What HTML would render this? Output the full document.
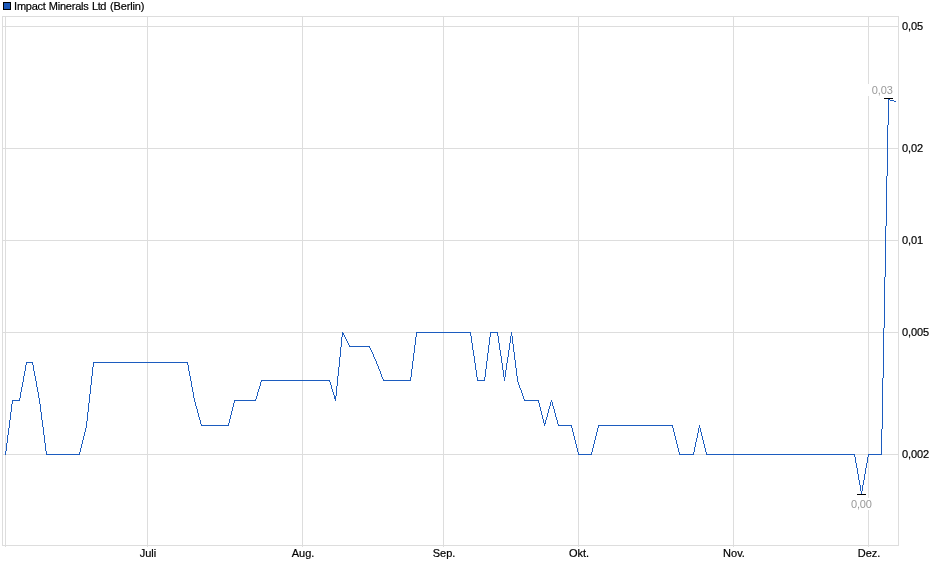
<!DOCTYPE html>
<html><head><meta charset="utf-8"><title>Impact Minerals Ltd (Berlin)</title>
<style>html,body{margin:0;padding:0;background:#fff;}body{width:940px;height:579px;position:relative;overflow:hidden;font-family:"Liberation Sans",Arial,sans-serif;}</style>
</head><body>
<svg width="940" height="579" viewBox="0 0 940 579" style="position:absolute;left:0;top:0">
<g shape-rendering="crispEdges" stroke="#dddddd" stroke-width="1" fill="none">
<rect x="2.5" y="16.5" width="896" height="529"/>
<line x1="5.5" y1="17" x2="5.5" y2="547"/>
<line x1="147.5" y1="17" x2="147.5" y2="547"/>
<line x1="302.5" y1="17" x2="302.5" y2="547"/>
<line x1="443.5" y1="17" x2="443.5" y2="547"/>
<line x1="578.5" y1="17" x2="578.5" y2="547"/>
<line x1="733.5" y1="17" x2="733.5" y2="547"/>
<line x1="868.5" y1="17" x2="868.5" y2="547"/>
<line x1="3" y1="26.5" x2="898" y2="26.5"/>
<line x1="3" y1="148.5" x2="898" y2="148.5"/>
<line x1="3" y1="240.5" x2="898" y2="240.5"/>
<line x1="3" y1="332.5" x2="898" y2="332.5"/>
<line x1="3" y1="454.5" x2="898" y2="454.5"/>
</g>
<rect x="868" y="84" width="27" height="12" fill="#fff"/>
<rect x="850" y="498" width="23" height="12" fill="#fff"/>
<path shape-rendering="crispEdges" fill="#1c5cbf" d="M889 99h1v1h-1zM888 99h1v26h-1zM890 100h4v1h-4zM894 101h2v1h-2zM887 125h1v51h-1zM886 176h1v50h-1zM885 226h1v51h-1zM884 277h1v51h-1zM883 328h1v50h-1zM417 332h53v1h-53zM491 332h6v1h-6zM470 332h1v4h-1zM497 332h1v4h-1zM511 332h1v4h-1zM342 332h1v5h-1zM416 332h1v5h-1zM490 332h1v5h-1zM343 333h1v2h-1zM344 335h1v2h-1zM471 336h1v7h-1zM498 336h1v7h-1zM510 336h1v7h-1zM512 336h1v8h-1zM345 337h1v2h-1zM415 337h1v8h-1zM489 337h1v8h-1zM341 337h1v10h-1zM346 339h1v2h-1zM347 341h1v2h-1zM348 343h1v2h-1zM472 343h1v7h-1zM499 343h1v7h-1zM509 343h1v7h-1zM513 344h1v8h-1zM349 345h1v2h-1zM414 345h1v8h-1zM488 345h1v8h-1zM350 346h19v1h-19zM369 346h1v2h-1zM340 347h1v10h-1zM370 348h1v2h-1zM371 350h1v2h-1zM473 350h1v6h-1zM500 350h1v6h-1zM508 350h1v7h-1zM372 352h1v2h-1zM514 352h1v8h-1zM413 353h1v8h-1zM487 353h1v8h-1zM373 354h1v3h-1zM474 356h1v7h-1zM501 356h1v7h-1zM374 357h1v2h-1zM507 357h1v6h-1zM339 357h1v10h-1zM375 359h1v2h-1zM515 360h1v8h-1zM376 361h1v3h-1zM412 361h1v8h-1zM486 361h1v8h-1zM27 362h5v1h-5zM94 362h93v1h-93zM26 362h1v3h-1zM32 362h1v3h-1zM187 362h1v3h-1zM93 362h1v5h-1zM475 363h1v7h-1zM502 363h1v7h-1zM506 363h1v7h-1zM377 364h1v2h-1zM25 365h1v6h-1zM33 365h1v6h-1zM188 365h1v6h-1zM378 366h1v3h-1zM92 367h1v9h-1zM338 367h1v9h-1zM516 368h1v8h-1zM379 369h1v2h-1zM411 369h1v8h-1zM485 369h1v8h-1zM476 370h1v7h-1zM503 370h1v7h-1zM505 370h1v7h-1zM380 371h1v3h-1zM24 371h1v5h-1zM34 371h1v5h-1zM189 371h1v5h-1zM381 374h1v3h-1zM35 376h1v5h-1zM190 376h1v5h-1zM23 376h1v6h-1zM517 376h1v6h-1zM91 376h1v9h-1zM337 376h1v10h-1zM382 377h1v2h-1zM410 377h1v4h-1zM477 377h1v4h-1zM484 377h1v4h-1zM504 377h1v4h-1zM882 378h1v51h-1zM383 379h1v2h-1zM262 380h67v1h-67zM384 380h26v1h-26zM478 380h6v1h-6zM261 380h1v2h-1zM329 380h1v2h-1zM36 381h1v6h-1zM191 381h1v6h-1zM330 382h1v3h-1zM518 382h1v3h-1zM260 382h1v4h-1zM22 382h1v5h-1zM519 385h1v3h-1zM331 385h1v4h-1zM90 385h1v9h-1zM259 386h1v3h-1zM336 386h1v10h-1zM21 387h1v5h-1zM37 387h1v5h-1zM192 387h1v5h-1zM520 388h1v2h-1zM258 389h1v3h-1zM332 389h1v3h-1zM521 390h1v3h-1zM333 392h1v3h-1zM257 392h1v4h-1zM20 392h1v6h-1zM38 392h1v6h-1zM193 392h1v6h-1zM522 393h1v3h-1zM89 394h1v9h-1zM334 395h1v4h-1zM256 396h1v3h-1zM523 396h1v3h-1zM335 396h1v5h-1zM19 398h1v3h-1zM194 398h1v4h-1zM39 398h1v6h-1zM255 399h1v2h-1zM524 399h1v2h-1zM13 400h6v1h-6zM235 400h20v1h-20zM525 400h13v1h-13zM551 400h1v2h-1zM234 400h1v3h-1zM538 400h1v3h-1zM12 400h1v4h-1zM195 402h1v4h-1zM550 402h1v4h-1zM552 402h1v4h-1zM233 403h1v4h-1zM539 403h1v4h-1zM88 403h1v9h-1zM11 404h1v8h-1zM40 404h1v8h-1zM196 406h1v3h-1zM549 406h1v3h-1zM553 406h1v3h-1zM232 407h1v4h-1zM540 407h1v4h-1zM197 409h1v4h-1zM548 409h1v4h-1zM554 409h1v4h-1zM231 411h1v4h-1zM541 411h1v4h-1zM10 412h1v8h-1zM41 412h1v8h-1zM87 412h1v9h-1zM198 413h1v4h-1zM547 413h1v4h-1zM555 413h1v4h-1zM230 415h1v4h-1zM542 415h1v4h-1zM199 417h1v3h-1zM546 417h1v3h-1zM556 417h1v3h-1zM229 419h1v4h-1zM543 419h1v4h-1zM200 420h1v4h-1zM545 420h1v4h-1zM557 420h1v4h-1zM42 420h1v7h-1zM9 420h1v8h-1zM86 421h1v7h-1zM228 423h1v3h-1zM544 423h1v3h-1zM201 424h1v2h-1zM558 424h1v2h-1zM202 425h26v1h-26zM559 425h12v1h-12zM599 425h73v1h-73zM571 425h1v3h-1zM598 425h1v3h-1zM672 425h1v3h-1zM699 425h1v3h-1zM43 427h1v8h-1zM85 428h1v4h-1zM572 428h1v4h-1zM597 428h1v4h-1zM673 428h1v4h-1zM700 428h1v4h-1zM698 428h1v5h-1zM8 428h1v7h-1zM881 429h1v26h-1zM84 432h1v4h-1zM573 432h1v4h-1zM596 432h1v4h-1zM674 432h1v4h-1zM701 432h1v4h-1zM697 433h1v5h-1zM7 435h1v8h-1zM44 435h1v8h-1zM83 436h1v4h-1zM574 436h1v4h-1zM595 436h1v4h-1zM675 436h1v4h-1zM702 436h1v4h-1zM696 438h1v4h-1zM82 440h1v4h-1zM575 440h1v4h-1zM594 440h1v4h-1zM676 440h1v4h-1zM703 440h1v4h-1zM695 442h1v5h-1zM6 443h1v8h-1zM45 443h1v8h-1zM81 444h1v4h-1zM576 444h1v4h-1zM593 444h1v4h-1zM677 444h1v4h-1zM704 444h1v4h-1zM694 447h1v5h-1zM80 448h1v4h-1zM577 448h1v4h-1zM592 448h1v4h-1zM678 448h1v4h-1zM705 448h1v4h-1zM5 451h1v4h-1zM46 451h1v4h-1zM79 452h1v3h-1zM578 452h1v3h-1zM591 452h1v3h-1zM679 452h1v3h-1zM693 452h1v3h-1zM706 452h1v3h-1zM47 454h32v1h-32zM579 454h12v1h-12zM680 454h13v1h-13zM707 454h147v1h-147zM869 454h12v1h-12zM854 454h1v3h-1zM868 454h1v3h-1zM855 457h1v6h-1zM867 457h1v6h-1zM856 463h1v5h-1zM866 463h1v5h-1zM857 468h1v6h-1zM865 468h1v6h-1zM858 474h1v6h-1zM864 474h1v6h-1zM859 480h1v5h-1zM863 480h1v5h-1zM860 485h1v6h-1zM862 485h1v6h-1zM861 491h1v3h-1z"/>
<g shape-rendering="crispEdges" stroke="#000" stroke-width="1">
<line x1="884" y1="98.5" x2="893" y2="98.5"/>
<line x1="857" y1="494.5" x2="866" y2="494.5"/>
</g>
<rect x="3.5" y="2.5" width="7" height="7" fill="#1c58b8" stroke="#000" stroke-width="1" shape-rendering="crispEdges"/>
<g font-family="'Liberation Sans', Arial, sans-serif" font-size="11" fill="#000" stroke="#000" stroke-width="0.2">
<text y="10"><tspan x="14.1" textLength="31.8">Impact</tspan> <tspan x="48.8" textLength="40">Minerals</tspan> <tspan x="92" textLength="14.4">Ltd</tspan> <tspan x="110.1" textLength="34.2">(Berlin)</tspan></text>
<text x="902" y="30" textLength="21">0,05</text>
<text x="902" y="152" textLength="21">0,02</text>
<text x="902" y="244" textLength="21">0,01</text>
<text x="902" y="336" textLength="27">0,005</text>
<text x="902" y="458" textLength="27">0,002</text>
<text x="148" y="557" text-anchor="middle">Juli</text>
<text x="303" y="557" text-anchor="middle">Aug.</text>
<text x="444" y="557" text-anchor="middle">Sep.</text>
<text x="579" y="557" text-anchor="middle">Okt.</text>
<text x="734" y="557" text-anchor="middle">Nov.</text>
<text x="869" y="557" text-anchor="middle">Dez.</text>
<text x="871.8" y="94" fill="#999" stroke="none" textLength="21">0,03</text>
<text x="850.9" y="508" fill="#999" stroke="none" textLength="21">0,00</text>
</g>
</svg>
</body></html>
